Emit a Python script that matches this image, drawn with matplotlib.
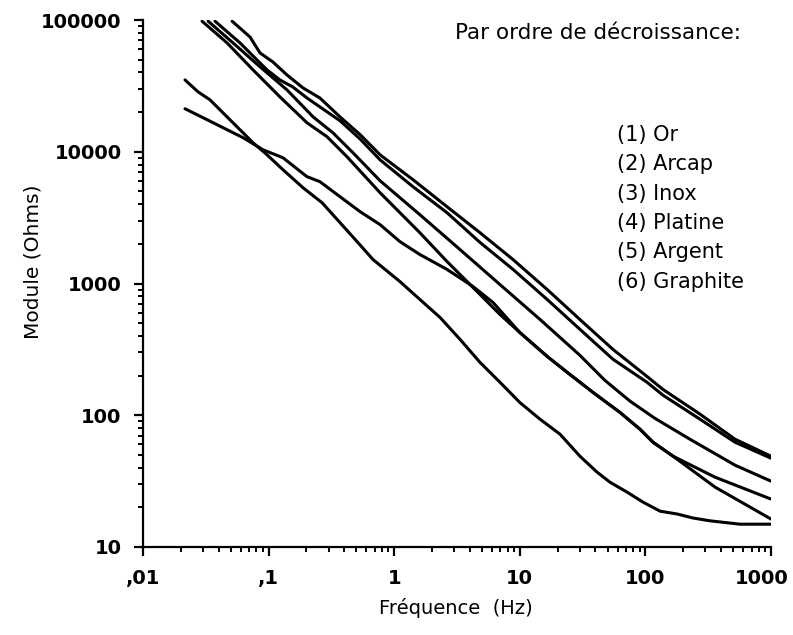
import matplotlib
matplotlib.use('Agg')
import matplotlib.pyplot as plt
from matplotlib.ticker import FixedLocator, LogLocator, NullFormatter
from matplotlib.transforms import ScaledTranslation

# curves: frequency (Hz) and module (Ohms)
f_1 = [0.0512, 0.0711, 0.0855, 0.108, 0.140, 0.188, 0.256, 0.370, 0.535, 0.771, 1.41, 2.63, 4.82, 8.83,
       16.5, 30.1, 55.2, 103, 138, 272, 517, 1000]
z_1 = [98000, 74300, 56200, 48100, 38300, 30500, 25600, 18400, 13500, 9490, 6140, 3830, 2430, 1520,
       901, 533, 316, 197, 157, 102, 65.8, 48.9]

f_2 = [0.0374, 0.0592, 0.0971, 0.123, 0.156, 0.202, 0.256, 0.370, 0.535, 0.771, 1.41, 2.63, 4.82, 8.83,
       16.5, 30.1, 55.2, 103, 138, 272, 517, 1000]
z_2 = [98000, 67000, 41800, 35100, 31000, 25600, 21900, 17200, 12500, 8690, 5430, 3450, 2050, 1280,
       757, 449, 266, 178, 142, 93.3, 62.4, 47.2]

f_3 = [0.0330, 0.0521, 0.0855, 0.140, 0.226, 0.326, 0.470, 0.771, 1.60, 3.34, 6.95, 14.5, 30.1, 47.6,
       75.4, 119, 226, 517, 1000]
z_3 = [98000, 67000, 44100, 29500, 18400, 13900, 9820, 6030, 3330, 1810, 982, 533, 285, 184,
       128, 94.8, 65.8, 41.8, 31.6]

f_4 = [0.0295, 0.0467, 0.0752, 0.123, 0.202, 0.292, 0.421, 0.771, 1.60, 2.63, 4.82, 6.95, 10.0, 16.5,
       23.8, 38.3, 62.8, 90.6, 115, 166, 358, 1000]
z_4 = [98000, 67000, 41800, 26100, 16600, 13000, 9160, 4890, 2430, 1470, 826, 582, 425, 280,
       212, 149, 105, 78.3, 62.4, 48.9, 33.9, 23.1]

f_5 = [0.0216, 0.0324, 0.0467, 0.0625, 0.0902, 0.130, 0.202, 0.256, 0.370, 0.535, 0.771, 1.11, 1.60,
       2.63, 4.24, 6.12, 10.0, 16.5, 23.8, 38.3, 62.8, 90.6, 115, 166, 358, 1000]
z_5 = [21200, 17500, 14700, 12800, 10350, 9010, 6470, 5930, 4560, 3510, 2800, 2080, 1660,
       1280, 949, 718, 425, 280, 212, 149, 105, 78.3, 62.4, 48.9, 28.5, 16.3]

f_6 = [0.0216, 0.0274, 0.0341, 0.0467, 0.0752, 0.0971, 0.130, 0.188, 0.266, 0.370, 0.506, 0.678, 1.11,
       1.60, 2.32, 3.34, 4.82, 6.95, 10.0, 14.5, 20.9, 30.1, 41.2, 52.3, 71.4, 95.7, 131, 179, 239, 327,
       566, 1000]
z_6 = [35100, 28500, 24800, 18400, 11700, 9490, 7310, 5330, 4110, 2900, 2080, 1520, 1035,
       757, 552, 377, 252, 178, 125, 93.3, 71.8, 48.9, 37.0, 31.0, 26.1, 21.9, 18.7, 17.8, 16.6, 15.8,
       14.9, 14.9]

legend_lines = ["(1) Or", "(2) Arcap", "(3) Inox", "(4) Platine", "(5) Argent", "(6) Graphite"]
x_ticks = [0.01, 0.1, 1, 10, 100, 1000]
x_labels = [",01", ",1", "1", "10", "100", "1000"]
y_ticks = [10, 100, 1000, 10000, 100000]
y_labels = ["10", "100", "1000", "10000", "100000"]

W, H = 793, 635
fig = plt.figure(figsize=(W / 100, H / 100), dpi=100)
ax = fig.add_axes([143 / W, (H - 547) / H, (771 - 143) / W, (547 - 20) / H])

for f, z in [(f_1, z_1), (f_2, z_2), (f_3, z_3), (f_4, z_4), (f_5, z_5), (f_6, z_6)]:
    ax.plot(f, z, color='black', linewidth=2.2, solid_joinstyle='round', solid_capstyle='round')

ax.set_xscale('log')
ax.set_yscale('log')
ax.set_xlim(0.01, 1000)
ax.set_ylim(10, 100000)

ax.spines['top'].set_visible(False)
ax.spines['right'].set_visible(False)
ax.spines['left'].set_linewidth(1.6)
ax.spines['bottom'].set_linewidth(1.6)

ax.xaxis.set_major_locator(FixedLocator(x_ticks))
ax.set_xticklabels(x_labels)
ax.yaxis.set_major_locator(FixedLocator(y_ticks))
ax.set_yticklabels(y_labels)
ax.xaxis.set_minor_locator(LogLocator(base=10, subs=range(2, 10)))
ax.yaxis.set_minor_locator(LogLocator(base=10, subs=range(2, 10)))
ax.xaxis.set_minor_formatter(NullFormatter())
ax.yaxis.set_minor_formatter(NullFormatter())

ax.tick_params(which='major', direction='out', length=6.5, width=1.6, labelsize=14, pad=9)
ax.tick_params(which='minor', direction='out', length=3.5, width=1.4)
for lab in ax.get_xticklabels() + ax.get_yticklabels():
    lab.set_fontweight('bold')
# the last x label sits a little left of its tick, as in the original
last = ax.get_xticklabels()[-1]
last.set_transform(last.get_transform() + ScaledTranslation(-9 / 100, 0, fig.dpi_scale_trans))

fig.text(33 / W, 1 - 262 / H, "Module (Ohms)", rotation=90, ha='center', va='center', fontsize=14.5)
fig.text(456 / W, 1 - 608 / H, "Fréquence  (Hz)", ha='center', va='center', fontsize=14)

fig.text(455 / W, 1 - 33 / H, "Par ordre de décroissance:", ha='left', va='center', fontsize=15.5)
for i, s in enumerate(legend_lines):
    fig.text(617 / W, 1 - (135 + 29.3 * i) / H, s, ha='left', va='center', fontsize=15)

fig.savefig("out.png", dpi=100)
